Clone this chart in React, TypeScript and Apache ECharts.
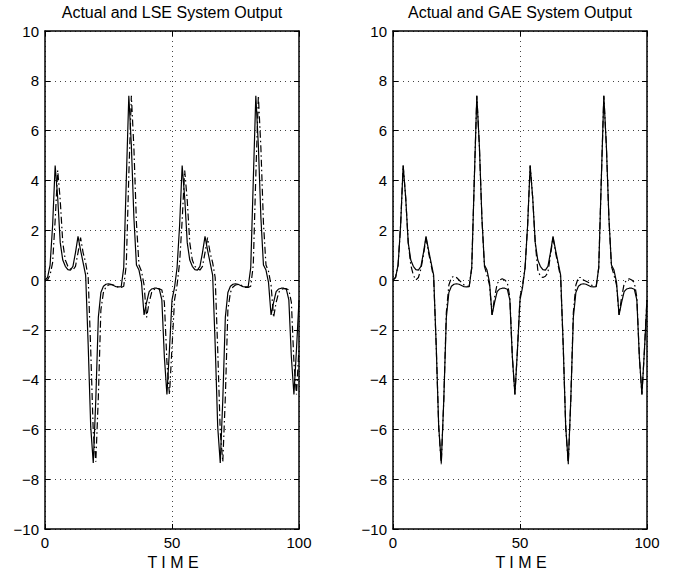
import React, { useEffect, useRef } from "react";
import * as echarts from "echarts";

// sample times 0..100
const TIME: number[] = Array.from({ length: 101 }, (_, i) => i);

// actual system output (solid, both panels)
const ACTUAL: number[] = [
  0, 0.1, 0.6, 2.2, 4.6, 3.3, 1.5, 0.8, 0.55, 0.42,
  0.4, 0.55, 1.1, 1.75, 1.2, 0.7, 0.2, -2.6, -5.9, -7.35,
  -4.8, -1.5, -0.5, -0.25, -0.17, -0.15, -0.17, -0.22, -0.27, -0.28,
  -0.27, 0.5, 4.0, 7.4, 5.4, 2.5, 0.6, 0.4, -0.1, -1.4,
  -0.9, -0.47, -0.36, -0.33, -0.33, -0.37, -0.8, -3.1, -4.6, -2.8,
  -0.8, -0.3, 0.5, 2.2, 4.6, 3.3, 1.5, 0.8, 0.55, 0.42,
  0.4, 0.55, 1.1, 1.75, 1.2, 0.7, 0.2, -2.6, -5.9, -7.35,
  -4.8, -1.5, -0.5, -0.25, -0.17, -0.15, -0.17, -0.22, -0.27, -0.28,
  -0.27, 0.5, 4.0, 7.4, 5.4, 2.5, 0.6, 0.4, -0.1, -1.4,
  -0.9, -0.47, -0.36, -0.33, -0.33, -0.37, -0.8, -3.1, -4.6, -2.8,
  -0.8,
];

// LSE estimate (dashed, left panel)
const LSE: number[] = [
  0, 0, 0.2, 0.7, 2.4, 4.4, 3.2, 1.5, 0.8, 0.55,
  0.45, 0.4, 0.55, 1.1, 1.7, 1.1, 0.7, 0.1, -2.8, -6.1,
  -7.3, -4.7, -1.2, -0.5, -0.28, -0.2, -0.18, -0.2, -0.25, -0.3,
  -0.3, -0.25, 0.6, 4.2, 7.4, 5.3, 2.3, 0.6, 0.35, -0.2,
  -1.5, -0.9, -0.5, -0.38, -0.35, -0.35, -0.4, -0.9, -3.3, -4.6,
  -2.7, -0.8, -0.2, 0.7, 2.4, 4.4, 3.2, 1.5, 0.8, 0.55,
  0.45, 0.4, 0.55, 1.1, 1.7, 1.1, 0.7, 0.1, -2.8, -6.1,
  -7.3, -4.7, -1.2, -0.5, -0.28, -0.2, -0.18, -0.2, -0.25, -0.3,
  -0.3, -0.25, 0.6, 4.2, 7.4, 5.3, 2.3, 0.6, 0.35, -0.2,
  -1.5, -0.9, -0.5, -0.38, -0.35, -0.35, -0.4, -0.9, -3.3, -4.6,
  -2.7,
];

// GAE estimate (dashed, right panel)
const GAE: number[] = [
  0, 0.1, 0.6, 2.2, 4.6, 3.3, 1.5, 0.6, 0.2, 0.0,
  0.1, 0.45, 1.0, 1.7, 1.1, 0.6, 0.1, -2.6, -5.9, -7.4,
  -4.8, -1.3, -0.2, 0.1, 0.15, 0.1, 0.0, -0.1, -0.2, -0.25,
  -0.25, 0.5, 4.0, 7.4, 5.4, 2.5, 0.55, 0.2, -0.2, -1.4,
  -0.7, -0.15, 0.0, 0.05, 0.0, -0.1, -0.7, -3.1, -4.6, -2.8,
  -0.7, -0.2, 0.5, 2.2, 4.6, 3.3, 1.5, 0.4, 0.15, 0.1,
  0.15, 0.3, 1.0, 1.7, 1.1, 0.6, 0.1, -2.6, -5.9, -7.4,
  -4.8, -1.3, -0.2, 0.1, 0.1, 0.0, -0.05, -0.1, -0.2, -0.25,
  -0.25, 0.5, 4.0, 7.4, 5.4, 2.5, 0.55, 0.2, -0.2, -1.4,
  -0.7, -0.15, 0.0, 0.05, 0.0, -0.1, -0.7, -3.1, -4.6, -2.8,
  -0.7,
];

const TITLES = ["Actual and LSE System Output", "Actual and GAE System Output"];
const X_LABEL = "T I M E";

const FONT = "'Liberation Sans', Arial, Helvetica, sans-serif";
const GRID_LEFTS = [45, 393];
const GRID_W = 254;
const GRID_TOP = 31;
const GRID_H = 498;

const fmt = (v: number) => String(v).replace("-", "\u2212");

function buildOption() {
  const grids: any[] = [];
  const xAxes: any[] = [];
  const yAxes: any[] = [];
  const series: any[] = [];
  const graphics: any[] = [];
  const estimates = [LSE, GAE];

  GRID_LEFTS.forEach((left, g) => {
    grids.push({ left, top: GRID_TOP, width: GRID_W, height: GRID_H, containLabel: false });
    const axisLine = { show: true, onZero: false, lineStyle: { color: "#000", width: 1.5 } };
    const tick = { show: true, inside: true, length: 5, lineStyle: { color: "#000", width: 1 } };
    const split = { show: true, lineStyle: { color: "#444", width: 1, type: [1, 4] } };
    xAxes.push({
      gridIndex: g, type: "value", position: "bottom", min: 0, max: 100, interval: 50,
      axisLine, axisTick: tick, splitLine: split,
      axisLabel: { show: true, color: "#000", fontSize: 15, fontFamily: FONT, margin: 6, formatter: fmt },
    });
    xAxes.push({
      gridIndex: g, type: "value", position: "top", min: 0, max: 100, interval: 50,
      axisLine, axisTick: tick, splitLine: { show: false }, axisLabel: { show: false },
    });
    yAxes.push({
      gridIndex: g, type: "value", position: "left", min: -10, max: 10, interval: 2,
      axisLine, axisTick: tick, splitLine: split,
      axisLabel: { show: true, color: "#000", fontSize: 15, fontFamily: FONT, margin: 6, formatter: fmt },
    });
    yAxes.push({
      gridIndex: g, type: "value", position: "right", min: -10, max: 10, interval: 2,
      axisLine, axisTick: tick, splitLine: { show: false }, axisLabel: { show: false },
    });
    series.push({
      type: "line", xAxisIndex: g * 2, yAxisIndex: g * 2, showSymbol: false, symbol: "none",
      data: TIME.map((t, i) => [t, ACTUAL[i]]),
      lineStyle: { color: "#000", width: 1.2, type: "solid" }, z: 3,
    });
    series.push({
      type: "line", xAxisIndex: g * 2, yAxisIndex: g * 2, showSymbol: false, symbol: "none",
      data: TIME.map((t, i) => [t, estimates[g][i]]),
      lineStyle: { color: "#000", width: 1.2, type: [7, 3, 1.5, 3] }, z: 4,
    });
    const cx = left + GRID_W / 2;
    graphics.push({
      type: "text", x: cx, y: 12,
      style: { text: TITLES[g], fill: "#000", font: `16px ${FONT}`, textAlign: "center", textVerticalAlign: "middle" },
    });
    graphics.push({
      type: "text", x: cx + 1, y: 562,
      style: { text: X_LABEL, fill: "#000", font: `16px ${FONT}`, textAlign: "center", textVerticalAlign: "middle" },
    });
  });

  return {
    animation: false,
    backgroundColor: "#fff",
    grid: grids,
    xAxis: xAxes,
    yAxis: yAxes,
    series,
    graphic: graphics,
  };
}

export default function App() {
  const ref = useRef<HTMLDivElement>(null);
  useEffect(() => {
    const chart = echarts.init(ref.current!, null, { renderer: "svg" });
    chart.setOption(buildOption() as any);
    return () => chart.dispose();
  }, []);
  return (
    <div
      ref={ref}
      style={{ position: "absolute", left: 0, top: 0, width: 685, height: 578, background: "#fff" }}
    />
  );
}
